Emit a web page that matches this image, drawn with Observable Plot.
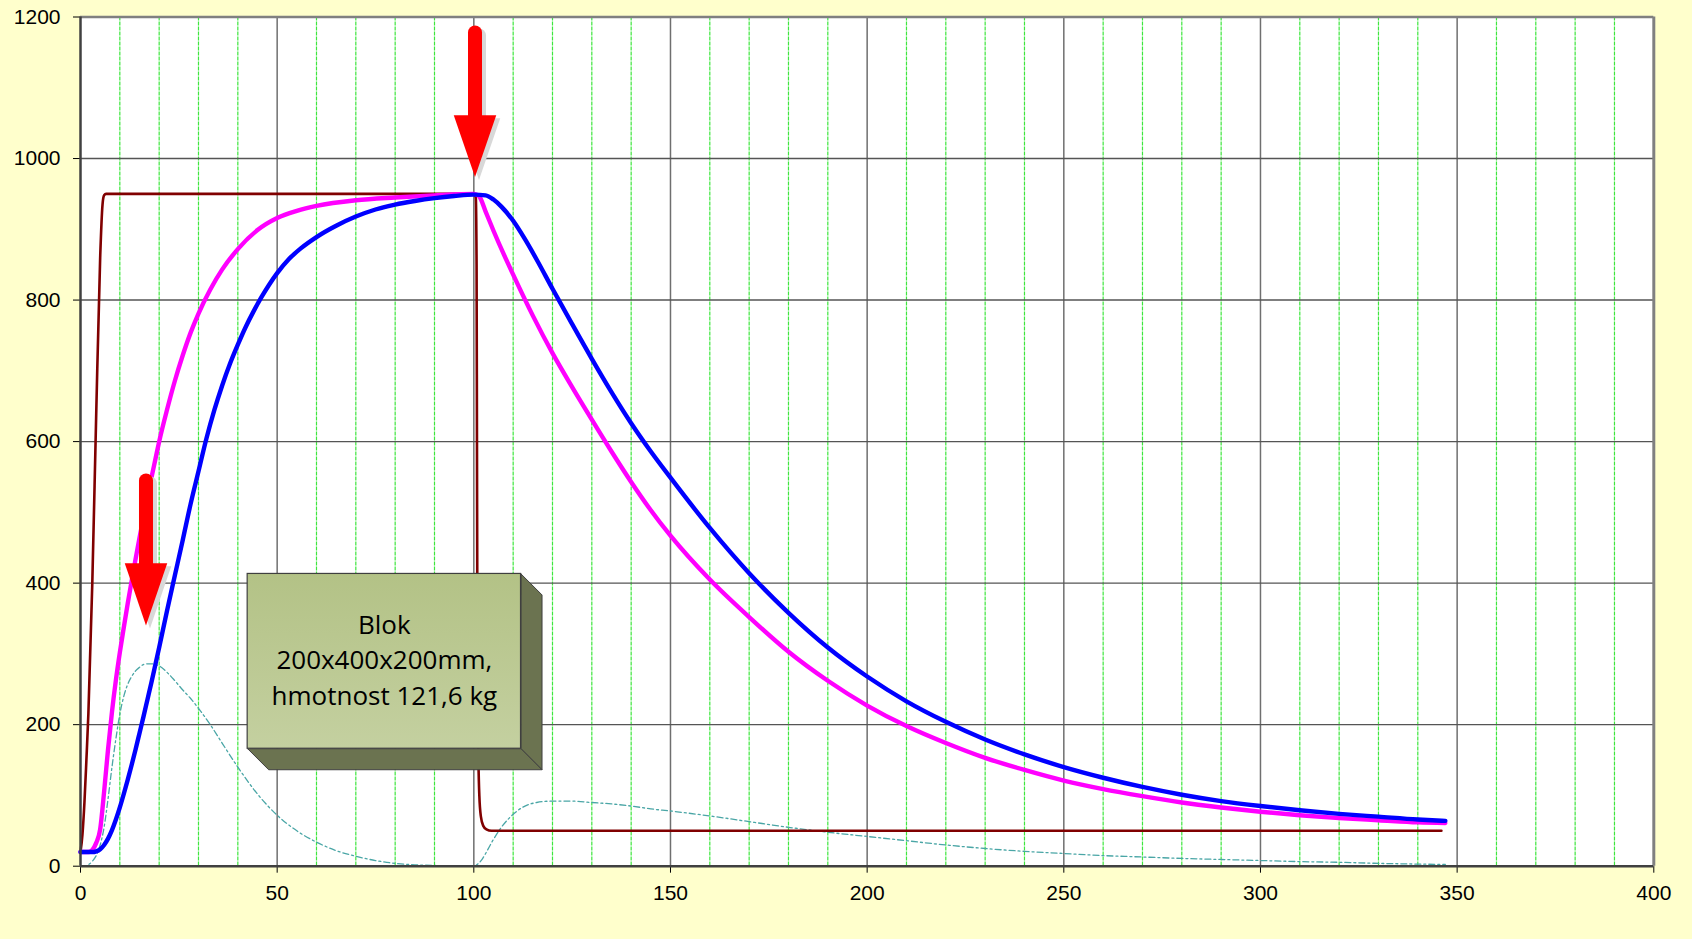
<!DOCTYPE html>
<html><head><meta charset="utf-8">
<script src="https://cdn.jsdelivr.net/npm/d3@7"></script>
<script src="https://cdn.jsdelivr.net/npm/@observablehq/plot@0.6"></script>
<style>body{margin:0;background:#fff}</style>
</head><body><div id="chart"></div>
<script>
// ---- data ----
const xTicks = [0, 50, 100, 150, 200, 250, 300, 350, 400];
const yTicks = [0, 200, 400, 600, 800, 1000, 1200];
const minorGrid = [10, 20, 30, 40, 60, 70, 80, 90, 110, 120, 130, 140, 160, 170, 180, 190, 210, 220, 230, 240, 260, 270, 280, 290, 310, 320, 330, 340, 360, 370, 380, 390];
const majorGrid = [50, 100, 150, 200, 250, 300, 350];
const hGrid = [200, 400, 600, 800, 1000];

// dark red: furnace (ambient) temperature
const brownX = [0, 0.5, 1, 1.5, 2, 3, 4, 5, 5.6, 6, 6.5, 100, 100.5, 100.7, 100.8, 100.9, 101.1, 101.4, 101.8, 102.4, 103.2, 104.5, 346];
const brownY = [20, 45, 90, 150, 215, 400, 640, 860, 935, 948, 950, 950, 945, 850, 600, 350, 180, 100, 70, 57, 52, 50, 50];

// magenta: surface temperature
const magX = [0, 2, 3, 4, 5, 6, 7, 8, 9, 10, 11, 12, 13, 14, 15, 16, 17, 18, 19, 20, 22, 24, 26, 28, 30, 33, 36, 40, 45, 50, 55, 60, 70, 80, 90, 100,
  101.3, 103, 105, 108, 110, 115, 120, 125, 130, 135, 140, 145, 150, 160, 170, 180, 190, 200, 210, 220, 230, 240, 250, 260, 270, 280, 290, 300, 310, 320, 330, 340, 347];
const magY = [20, 20, 23, 33, 52, 105, 165, 218, 263, 302, 337, 371, 403, 434, 464, 493, 521, 548, 574, 600, 645, 686, 722, 754, 781, 815, 843, 872, 899, 916, 926, 933, 941, 945, 948, 950,
  947, 925, 898, 860, 836, 778, 725, 677, 631, 586, 543, 503, 467, 405, 352, 303, 262, 227, 198, 174, 153, 136, 121, 109, 99, 90, 83, 77, 72, 68, 65, 62, 61];

// blue: core temperature
const blueX = [0, 3, 4, 5, 6, 7, 8, 9, 10, 11, 12, 13, 14, 15, 16, 17, 18, 19, 20, 22, 24, 26, 28, 30, 32, 34, 36, 38, 40, 42, 44, 46, 48, 50, 53, 56, 60, 65, 70, 75, 80, 85, 90, 95, 100,
  103, 105, 107, 110, 113, 116, 120, 125, 130, 135, 140, 145, 150, 160, 170, 180, 190, 200, 210, 220, 230, 240, 250, 260, 270, 280, 290, 300, 310, 320, 330, 340, 347];
const blueY = [20, 20, 21, 24, 30, 39, 51, 66, 83, 102, 122, 143, 165, 188, 211, 235, 259, 284, 309, 361, 411, 461, 512, 558, 604, 644, 679, 710, 737, 762, 784, 804, 822, 838, 858, 873, 889, 905, 918, 928, 935, 940, 944, 947, 949,
  948, 942, 932, 912, 886, 857, 816, 766, 717, 670, 626, 586, 549, 478, 414, 358, 309, 268, 233, 204, 179, 158, 140, 125, 112, 101, 92, 85, 79, 74, 70, 66, 64];

// teal dash-dot: temperature difference
const tealX = [0, 1, 2, 3, 4, 5, 6, 7, 8, 9, 10, 11, 12, 13, 14, 15, 16, 17, 18, 19, 20, 22, 24, 26, 28, 30, 33, 36, 40, 45, 50, 55, 60, 65, 70, 75, 80, 85, 90, 100,
  101, 102, 103, 105, 107, 109, 111, 113, 116, 120, 125, 130, 135, 140, 145, 150, 160, 170, 180, 190, 200, 210, 220, 230, 240, 250, 260, 270, 280, 290, 300, 310, 320, 330, 340, 347];
const tealY = [0, 0, 2, 7, 15, 30, 55, 95, 140, 180, 215, 240, 257, 268, 276, 281, 285, 286, 286, 285, 283, 274, 262, 249, 237, 223, 200, 174, 140, 102, 72, 50, 34, 22, 14, 8, 4, 2, 1, 0.5,
  3, 9, 18, 38, 55, 68, 78, 85, 90, 92, 92, 90, 88, 85, 81, 78, 71, 63, 55, 48, 42, 36, 30, 25, 21, 18, 15, 13, 11, 9.5, 8, 6.5, 5.5, 4, 3, 2.4];

// annotations (data units)
const arrowIds = [1, 2];
const arrowX = [100.3, 16.65];
const arrowTop = [1178, 545];
const arrowBase = [1061, 428];
const arrowTip = [974, 340];
const arrowHalf = 5.4;

const boxX = [42.5, 112];
const boxY = [166, 413];
const boxDepth = [5.34, 29.7];
const boxText = "Blok\n200x400x200mm,\nhmotnost 121,6 kg";

// ---- build tables ----
const toRows = (xs, ys) => xs.map((x, i) => ({x, y: ys[i]}));
const brown = toRows(brownX, brownY);
const magenta = toRows(magX, magY);
const blue = toRows(blueX, blueY);
const teal = toRows(tealX, tealY);

const shafts = arrowIds.map((id, i) => ({id, x: arrowX[i], y1: arrowTop[i], y2: arrowBase[i]}));
const heads = arrowIds.flatMap((id, i) => [
  {id, x: arrowX[i] - arrowHalf, y: arrowBase[i]},
  {id, x: arrowX[i] + arrowHalf, y: arrowBase[i]},
  {id, x: arrowX[i], y: arrowTip[i]}
]);

const [bx1, bx2] = boxX, [by1, by2] = boxY, [ddx, ddy] = boxDepth;
const sideFace = [
  {x: bx2, y: by2}, {x: bx2 + ddx, y: by2 - ddy}, {x: bx2 + ddx, y: by1 - ddy}, {x: bx2, y: by1}, {x: bx2, y: by2}
];
const bottomFace = [
  {x: bx1, y: by1}, {x: bx2, y: by1}, {x: bx2 + ddx, y: by1 - ddy}, {x: bx1 + ddx, y: by1 - ddy}, {x: bx1, y: by1}
];

const svg = Plot.plot({
  width: 1692,
  height: 939,
  marginLeft: 80,
  marginRight: 38.7,
  marginTop: 16.5,
  marginBottom: 73.3,
  style: {background: "#FFFFCC", fontFamily: "'Liberation Sans', Arial, sans-serif", fontSize: "21px", color: "#000"},
  x: {domain: [0, 400], ticks: xTicks, tickFormat: d => String(d), tickSize: 7, tickPadding: 12, label: null},
  y: {domain: [0, 1200], ticks: yTicks, tickFormat: d => String(d), tickSize: 7, tickPadding: 13, label: null},
  marks: [
    Plot.frame({fill: "white", stroke: "none"}),
    Plot.ruleX(minorGrid, {stroke: "#3ee63e", strokeWidth: 1.2, strokeDasharray: "4,1"}),
    Plot.ruleX(majorGrid, {stroke: "#6f6f6f", strokeWidth: 1.5}),
    Plot.ruleY(hGrid, {stroke: "#555555", strokeWidth: 1.4}),
    Plot.ruleY([1200], {stroke: "#808080", strokeWidth: 2.5}),
    Plot.ruleX([400], {stroke: "#808080", strokeWidth: 3}),
    Plot.line(teal, {x: "x", y: "y", stroke: "#4aa6a6", strokeWidth: 1.3, strokeDasharray: "6,3,2,3", curve: "monotone-x"}),
    Plot.line(brown, {x: "x", y: "y", stroke: "#800000", strokeWidth: 2.6, curve: "monotone-x"}),
    Plot.line(magenta, {x: "x", y: "y", stroke: "#ff00ff", strokeWidth: 4.4, curve: "monotone-x"}),
    Plot.line(blue, {x: "x", y: "y", stroke: "#0000ff", strokeWidth: 4.4, curve: "monotone-x"}),
    // arrow shadows
    Plot.link(shafts, {x1: "x", x2: "x", y1: "y1", y2: "y2", stroke: "#d8d8d8", strokeWidth: 14, strokeLinecap: "round", dx: 4, dy: 3}),
    Plot.line(heads, {x: "x", y: "y", z: "id", fill: "#d8d8d8", stroke: "none", dx: 4, dy: 3}),
    // arrows
    Plot.link(shafts, {x1: "x", x2: "x", y1: "y1", y2: "y2", stroke: "#ff0000", strokeWidth: 14, strokeLinecap: "round"}),
    Plot.line(heads, {x: "x", y: "y", z: "id", fill: "#ff0000", stroke: "none"}),
    // 3D box
    Plot.line(sideFace, {x: "x", y: "y", fill: "#6b7350", stroke: "#3f3f3f", strokeWidth: 1}),
    Plot.line(bottomFace, {x: "x", y: "y", fill: "#6b7350", stroke: "#3f3f3f", strokeWidth: 1}),
    Plot.rect([{x1: bx1, x2: bx2, y1: by1, y2: by2}], {x1: "x1", x2: "x2", y1: "y1", y2: "y2", fill: "url(#boxGrad)", stroke: "#3f3f3f", strokeWidth: 1.2}),
    Plot.text([{x: (bx1 + bx2) / 2, y: (by1 + by2) / 2 + 5, t: boxText}], {x: "x", y: "y", text: "t", fontSize: 26, lineHeight: 1.37, fontFamily: "'Open Sans', 'Noto Sans', sans-serif", fill: "#000"}),
    // axes lines
    Plot.ruleX([0], {stroke: "#404040", strokeWidth: 2.5}),
    Plot.ruleY([0], {stroke: "#404040", strokeWidth: 2.5})
  ]
});

const ns = "http://www.w3.org/2000/svg";
const defs = document.createElementNS(ns, "defs");
defs.innerHTML = '<linearGradient id="boxGrad" x1="0" y1="0" x2="0" y2="1"><stop offset="0" stop-color="#b3c286"/><stop offset="1" stop-color="#c4d0a0"/></linearGradient>';
svg.insertBefore(defs, svg.firstChild);
document.getElementById("chart").appendChild(svg);
</script></body></html>
